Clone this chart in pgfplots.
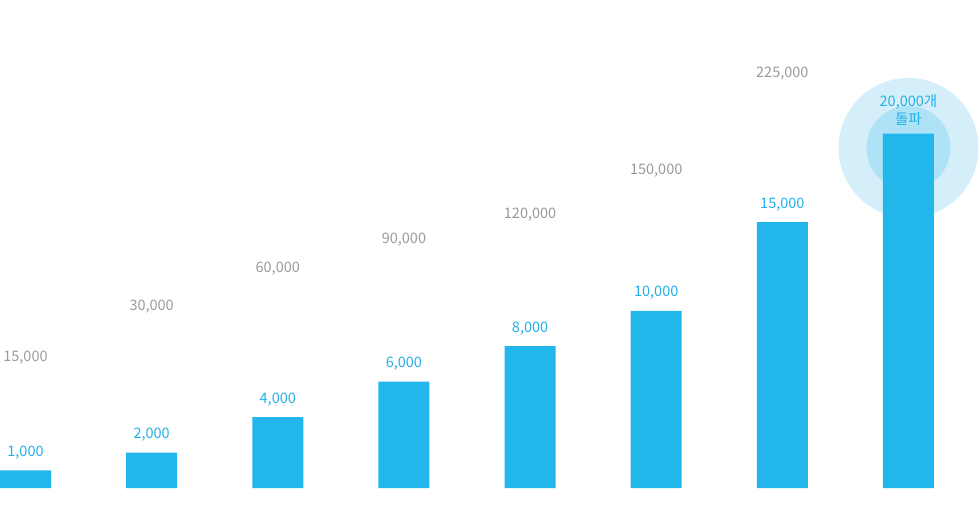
\documentclass[border=0pt]{standalone}
\usepackage{pgfplots}
\pgfplotsset{compat=1.18}
\usepackage{fontspec}
\setmainfont{Noto Sans CJK KR}
\definecolor{barblue}{HTML}{22B6EB}
\definecolor{lblblue}{HTML}{22B0E8}
\definecolor{lblgray}{HTML}{9A9A9A}
\definecolor{halo}{HTML}{D5EFFA}
\definecolor{halocore}{HTML}{AEE2F7}
\begin{document}
\begin{tikzpicture}
\begin{axis}[
	width=980pt, height=519pt, scale only axis,
	axis lines=none,
	xmin=-0.2022, xmax=7.567,
	ymin=-1749, ymax=27540,
	clip=false,
]
% halo behind the last bar
\fill[halo] (axis cs:7,19190) circle[radius=70pt];
\fill[halocore] (axis cs:7,19190) circle[radius=42pt];

% bars
\addplot[ybar, bar width=51pt, fill=barblue, draw=none,
	nodes near coords, point meta=explicit symbolic,
	every node near coord/.append style={anchor=base, yshift=14pt,
		text=lblblue, inner sep=0pt, font=\fontsize{14.5}{18}\selectfont}]
	coordinates {(0,1000) [1,000] (1,2000) [2,000] (2,4000) [4,000]
		(3,6000) [6,000] (4,8000) [8,000] (5,10000) [10,000]
		(6,15000) [15,000] (7,20000) []};

% gray labels
\addplot[draw=none, mark=none,
	nodes near coords, point meta=explicit symbolic,
	every node near coord/.append style={anchor=center, inner sep=0pt,
		text=lblgray, font=\fontsize{14.5}{18}\selectfont}]
	coordinates {(0,7336) [15,000] (1,10214) [30,000] (2,12359) [60,000]
		(3,13995) [90,000] (4,15406) [120,000] (5,17889) [150,000]
		(6,23363) [225,000]};

\node[anchor=south, align=center, inner sep=0pt, yshift=8pt, text=lblblue,
	font=\fontsize{14.5}{18}\selectfont] at (axis cs:7,20000) {20,000개\\돌파};
\end{axis}
\pgfresetboundingbox
\useasboundingbox (current axis.south west) rectangle (current axis.north east);
\end{tikzpicture}
\end{document}
